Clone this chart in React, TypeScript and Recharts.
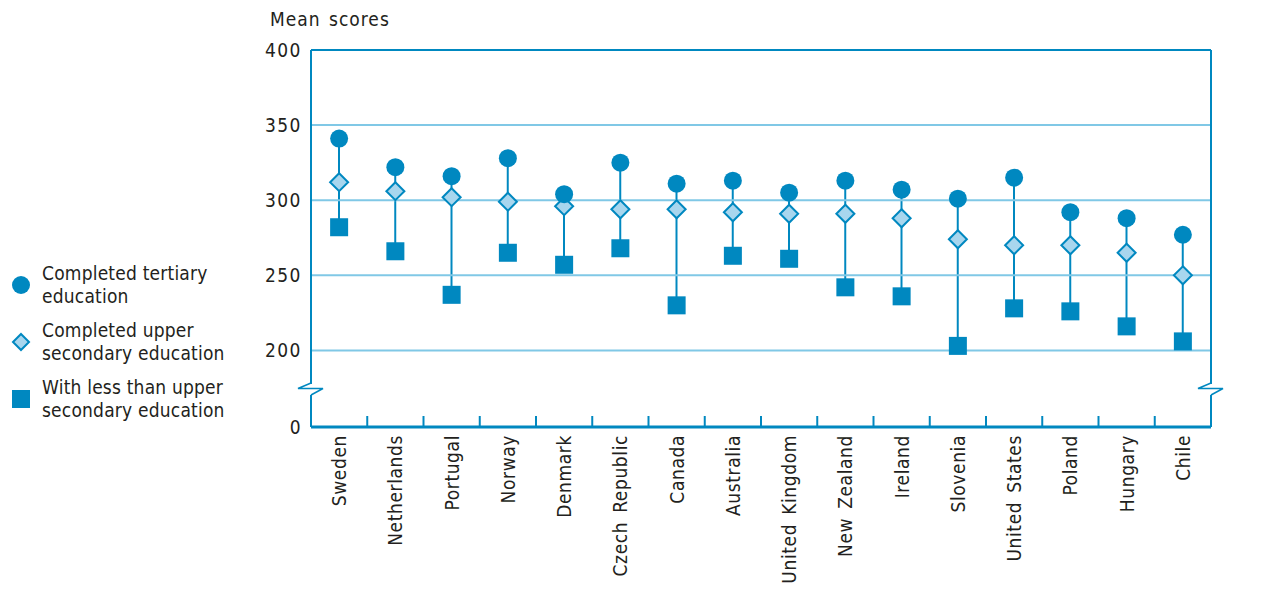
import React from "react";
import { ComposedChart, Bar, Line, XAxis, YAxis, ReferenceLine } from "recharts";

const countries = [
  "Sweden", "Netherlands", "Portugal", "Norway", "Denmark", "Czech Republic",
  "Canada", "Australia", "United Kingdom", "New Zealand", "Ireland", "Slovenia",
  "United States", "Poland", "Hungary", "Chile",
];
const tertiary = [341, 322, 316, 328, 304, 325, 311, 313, 305, 313, 307, 301, 315, 292, 288, 277];
const upperSecondary = [312, 306, 302, 299, 296, 294, 294, 292, 291, 291, 288, 274, 270, 270, 265, 250];
const lessThanUpper = [282, 266, 237, 265, 257, 268, 230, 263, 261, 242, 236, 203, 228, 226, 216, 206];

// axis is broken: "0" is drawn where 149 would sit on the linear scale
const ZERO_AT = 149;
const yTicks = [ZERO_AT, 200, 250, 300, 350, 400];
const gridValues = [200, 250, 300, 350];

const legendItems = [
  { shape: "circle", lines: ["Completed tertiary", "education"] },
  { shape: "diamond", lines: ["Completed upper", "secondary education"] },
  { shape: "square", lines: ["With less than upper", "secondary education"] },
];

const DARK = "#0088c0";
const LIGHT = "#a8d6ee";
const GRID = "#80c8e6";
const TEXT = "#231f20";
const FONT = "'Liberation Sans Narrow', 'Arial Narrow', 'DejaVu Sans Condensed', 'Roboto Condensed', sans-serif";

const W = 1265;
const H = 600;
const MARGIN = { top: 50, right: 0, bottom: 23, left: 251 };
const Y_W_LEFT = 60;
const Y_W_RIGHT = 54;
const X_H = H - MARGIN.top - MARGIN.bottom - 377;
const PLOT_L = MARGIN.left + Y_W_LEFT;
const PLOT_R = W - MARGIN.right - Y_W_RIGHT;

const data = countries.map((c, i) => ({
  name: c,
  tertiary: tertiary[i],
  upper: upperSecondary[i],
  less: lessThanUpper[i],
  stem: [lessThanUpper[i], tertiary[i]],
}));

const CircleDot = (p: any) =>
  p.cx == null ? null : <circle cx={p.cx} cy={p.cy} r={9} fill={DARK} />;
const DiamondDot = (p: any) =>
  p.cx == null ? null : (
    <polygon
      points={`${p.cx},${p.cy - 9} ${p.cx + 9},${p.cy} ${p.cx},${p.cy + 9} ${p.cx - 9},${p.cy}`}
      fill={LIGHT}
      stroke={DARK}
      strokeWidth={2}
    />
  );
const SquareDot = (p: any) =>
  p.cx == null ? null : <rect x={p.cx - 9} y={p.cy - 9} width={18} height={18} fill={DARK} />;

const CountryTick = (props: any) => {
  const { x, y, payload } = props;
  const bw = (PLOT_R - PLOT_L) / countries.length;
  return (
    <g>
      <line x1={x + bw / 2} x2={x + bw / 2} y1={y - 11} y2={y} stroke={DARK} strokeWidth={2} />
      <text
        transform={`translate(${x},${y + 8}) rotate(-90)`}
        textAnchor="end"
        dominantBaseline="central"
        fontSize={19}
        fill={TEXT}
        style={{ letterSpacing: "0.6px", wordSpacing: "3px", fontFamily: FONT }}
      >
        {payload.value}
      </text>
    </g>
  );
};

const fmt = (v: number) => (v === ZERO_AT ? "0" : String(v));
const tickStyle = { fontSize: 19, fill: TEXT, fontFamily: FONT, letterSpacing: "1.5px" };

function BreakMark({ x }: { x: number }) {
  const y0 = 383;
  return (
    <g>
      <rect x={x - 8} y={y0 + 1} width={18} height={11} fill="#fff" />
      <polyline
        points={`${x},${y0} ${x - 13},${y0 + 5.5} ${x + 12},${y0 + 5.5} ${x},${y0 + 12}`}
        fill="none"
        stroke={DARK}
        strokeWidth={1.5}
      />
    </g>
  );
}

function LegendIcon({ shape }: { shape: string }) {
  return (
    <svg width={22} height={22} style={{ flex: "none" }}>
      {shape === "circle" && <circle cx={11} cy={11} r={9} fill={DARK} />}
      {shape === "diamond" && (
        <polygon points="11,3 19,11 11,19 3,11" fill={LIGHT} stroke={DARK} strokeWidth={2} />
      )}
      {shape === "square" && <rect x={2} y={2} width={18} height={18} fill={DARK} />}
    </svg>
  );
}

export default function App() {
  return (
    <div style={{ position: "absolute", left: 0, top: 0, width: W, height: H, background: "#fff", fontFamily: FONT }}>
      <div
        style={{
          position: "absolute", left: 270, top: 8, fontSize: 19, color: TEXT,
          letterSpacing: "1px", wordSpacing: "2px",
        }}
      >
        Mean scores
      </div>
      <div style={{ position: "absolute", left: 10, top: 256, width: 240 }}>
        {legendItems.map((it) => (
          <div key={it.shape} style={{ display: "flex", alignItems: "center", height: 57 }}>
            <LegendIcon shape={it.shape} />
            <div style={{ marginLeft: 10, fontSize: 19, lineHeight: "23px", color: TEXT, letterSpacing: "0.2px" }}>
              {it.lines.map((l) => (
                <div key={l}>{l}</div>
              ))}
            </div>
          </div>
        ))}
      </div>
      <div style={{ position: "absolute", left: 0, top: 0 }}>
        <ComposedChart width={W} height={H} data={data} margin={MARGIN}>
          <XAxis
            dataKey="name"
            interval={0}
            height={X_H}
            tick={<CountryTick />}
            tickLine={false}
            tickSize={0}
            tickMargin={0}
            axisLine={{ stroke: DARK, strokeWidth: 3 }}
          />
          <YAxis
            yAxisId="l"
            domain={[ZERO_AT, 400]}
            ticks={yTicks}
            tickFormatter={fmt}
            width={Y_W_LEFT}
            tickLine={false}
            tickSize={0}
            tickMargin={9}
            tick={tickStyle}
            axisLine={{ stroke: DARK, strokeWidth: 2 }}
          />
          <YAxis
            yAxisId="r"
            orientation="right"
            domain={[ZERO_AT, 400]}
            ticks={yTicks}
            tickFormatter={fmt}
            width={Y_W_RIGHT}
            tickLine={false}
            tickSize={0}
            tickMargin={11}
            tick={{ ...tickStyle, textAnchor: "start" }}
            axisLine={{ stroke: DARK, strokeWidth: 2 }}
          />
          {gridValues.map((v) => (
            <ReferenceLine key={v} yAxisId="l" y={v} stroke={GRID} strokeWidth={2} />
          ))}
          <ReferenceLine yAxisId="l" y={400} stroke={DARK} strokeWidth={2} />
          <Bar yAxisId="l" dataKey="stem" barSize={2} fill={DARK} isAnimationActive={false} />
          <Line yAxisId="l" dataKey="less" stroke="none" dot={<SquareDot />} activeDot={false} isAnimationActive={false} />
          <Line yAxisId="l" dataKey="upper" stroke="none" dot={<DiamondDot />} activeDot={false} isAnimationActive={false} />
          <Line yAxisId="l" dataKey="tertiary" stroke="none" dot={<CircleDot />} activeDot={false} isAnimationActive={false} />
        </ComposedChart>
      </div>
      <svg width={W} height={H} style={{ position: "absolute", left: 0, top: 0, pointerEvents: "none" }}>
        <BreakMark x={PLOT_L} />
        <BreakMark x={PLOT_R} />
      </svg>
    </div>
  );
}
